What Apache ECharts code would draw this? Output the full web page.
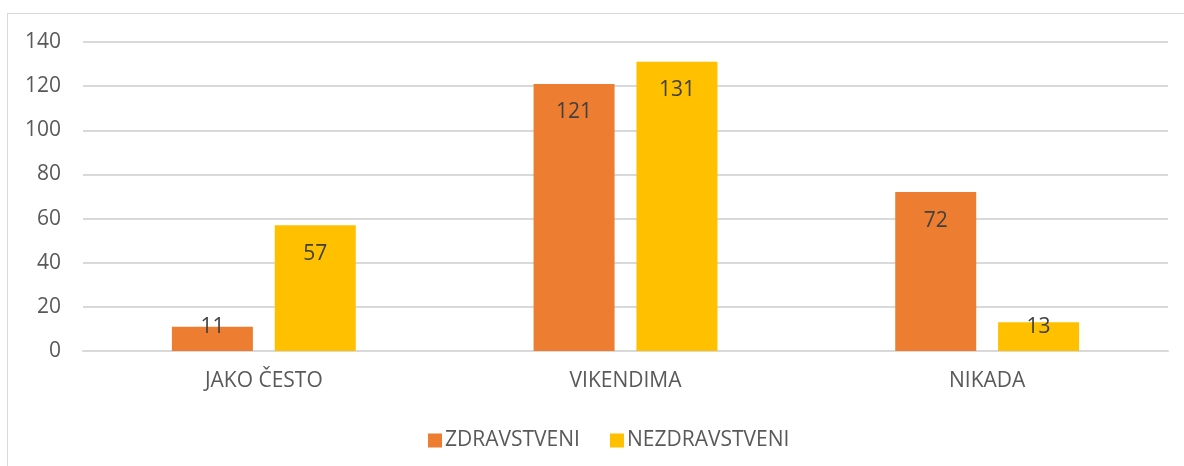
<!DOCTYPE html>
<html>
<head>
<meta charset="utf-8">
<script src="https://cdn.jsdelivr.net/npm/echarts@6/dist/echarts.min.js"></script>
<style>
    html, body { margin: 0; padding: 0; background: #fff; }
    .frame {
        position: absolute;
        left: 7px;
        top: 13px;
        width: 1190px;
        height: 470px;
        border-left: 1px solid #d9d9d9;
        border-top: 1px solid #d9d9d9;
    }
    #chart { position: absolute; left: 0; top: 0; width: 1184px; height: 466px; }
</style>
</head>
<body>
<div class="frame"></div>
<div id="chart"></div>
<script>
    var categories = ['JAKO ČESTO', 'VIKENDIMA', 'NIKADA'];
    var seriesNames = ['ZDRAVSTVENI', 'NEZDRAVSTVENI'];
    var zdravstveni = [11, 121, 72];
    var nezdravstveni = [57, 131, 13];
    var yTicks = [0, 20, 40, 60, 80, 100, 120, 140];

    var font = '"Open Sans", sans-serif';
    var textColor = '#595959';

    // short bars: Excel pushes the label up so it sits on the bar top
    function withLabels(values) {
        return values.map(function (v) {
            if (v < 20) {
                return { value: v, label: { distance: v < 12 ? -10 : -6 } };
            }
            return v;
        });
    }

    function barSeries(name, values, color) {
        return {
            name: name,
            type: 'bar',
            barWidth: 81,
            barGap: '27%',
            itemStyle: { color: color },
            label: {
                show: true,
                position: 'insideTop',
                distance: 18,
                color: '#404040',
                fontFamily: font,
                fontSize: 21
            },
            data: withLabels(values)
        };
    }

    var chart = echarts.init(document.getElementById('chart'), null, { renderer: 'canvas' });
    chart.setOption({
        animation: false,
        grid: { left: 83, right: 16, top: 42, bottom: 115 },
        legend: {
            data: seriesNames,
            left: 423,
            top: 425,
            itemWidth: 14,
            itemHeight: 14,
            itemGap: 30,
            icon: 'rect',
            textStyle: { color: textColor, fontFamily: font, fontSize: 21, padding: [0, 0, 0, -2] }
        },
        xAxis: {
            type: 'category',
            data: categories,
            axisLine: { lineStyle: { color: '#d9d9d9', width: 2 } },
            axisTick: { show: false },
            axisLabel: { color: textColor, fontFamily: font, fontSize: 21, margin: 20 }
        },
        yAxis: {
            type: 'value',
            min: yTicks[0],
            max: yTicks[yTicks.length - 1],
            interval: 20,
            axisLine: { show: false },
            axisTick: { show: false },
            axisLabel: { color: textColor, fontFamily: font, fontSize: 21, margin: 22 },
            splitLine: { lineStyle: { color: '#d9d9d9', width: 2 } }
        },
        series: [
            barSeries(seriesNames[0], zdravstveni, '#ed7d31'),
            barSeries(seriesNames[1], nezdravstveni, '#ffc000')
        ]
    });
</script>
</body>
</html>
